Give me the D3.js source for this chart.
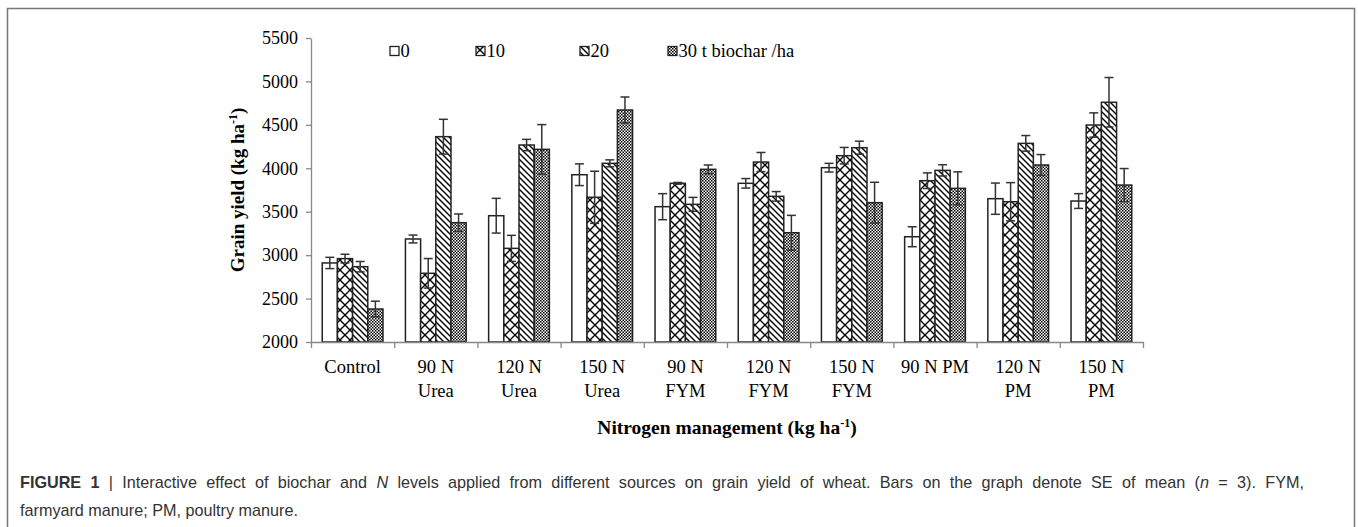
<!DOCTYPE html>
<html><head><meta charset="utf-8">
<script src="https://cdn.jsdelivr.net/npm/d3@7"></script>
<style>body{margin:0;background:#fff;} svg{display:block;}</style>
</head><body><svg id="c" width="1358" height="527"></svg>
<script>
const categories = [["Control"],["90 N","Urea"],["120 N","Urea"],["150 N","Urea"],["90 N","FYM"],["120 N","FYM"],["150 N","FYM"],["90 N PM"],["120 N","PM"],["150 N","PM"]];
const seriesNames = ["0","10","20","30 t biochar /ha"];
const s0  = [2910, 3186, 3454, 3926, 3558, 3827, 4007, 3212, 3650, 3623];
const s10 = [2960, 2791, 3078, 3666, 3827, 4072, 4145, 3857, 3615, 4498];
const s20 = [2867, 4364, 4268, 4057, 3585, 3677, 4237, 3976, 4287, 4760];
const s30 = [2380, 3374, 4218, 4671, 3988, 3258, 3604, 3769, 4038, 3807];
const e0  = [65, 45, 200, 125, 150, 55, 50, 115, 180, 85];
const e10 = [50, 170, 150, 300, 10, 110, 95, 90, 220, 140];
const e20 = [60, 200, 65, 40, 80, 55, 75, 65, 90, 285];
const e30 = [90, 100, 285, 150, 50, 200, 235, 190, 120, 190];
const yTicks = [2000, 2500, 3000, 3500, 4000, 4500, 5000, 5500];
const yTitle = "Grain yield (kg ha";
const xTitle = "Nitrogen management (kg ha";
const captionLine1 = "Interactive effect of biochar and ";
const captionLine2 = "farmyard manure; PM, poultry manure.";

const values = [s0, s10, s20, s30];
const errs = [e0, e10, e20, e30];

const svg = d3.select("#c");
const serif = "'Liberation Serif','Times New Roman',serif";
const sans = "'Liberation Sans',Arial,sans-serif";

// patterns
const defs = svg.append("defs");
const p10 = defs.append("pattern").attr("id","p10").attr("patternUnits","userSpaceOnUse").attr("width",10).attr("height",10);
p10.append("rect").attr("width",10).attr("height",10).attr("fill","#fff");
p10.append("path").attr("d","M0,0L10,10M10,0L0,10").attr("stroke","#000").attr("stroke-width",1.4);
const p20 = defs.append("pattern").attr("id","p20").attr("patternUnits","userSpaceOnUse").attr("width",6).attr("height",6);
p20.append("rect").attr("width",6).attr("height",6).attr("fill","#fff");
p20.append("path").attr("d","M0,0L6,6M-3,3L3,9M3,-3L9,3").attr("stroke","#000").attr("stroke-width",1.4);
const p30 = defs.append("pattern").attr("id","p30").attr("patternUnits","userSpaceOnUse").attr("width",3).attr("height",3);
p30.append("rect").attr("width",3).attr("height",3).attr("fill","#fff");
p30.append("rect").attr("x",0).attr("y",0).attr("width",1.5).attr("height",1.5).attr("fill","#000");
p30.append("rect").attr("x",1.5).attr("y",1.5).attr("width",1.5).attr("height",1.5).attr("fill","#000");
const fills = ["#fff","url(#p10)","url(#p20)","url(#p30)"];

// frame
svg.append("path").attr("d","M7.5,560V8.5H1354.5V560").attr("fill","none").attr("stroke","#777").attr("stroke-width",1.5);

const pLeft = 311, pRight = 1143, pTop = 38, pBottom = 342;
const y = d3.scaleLinear().domain([2000,5500]).range([pBottom, pTop]);
const x0 = d3.scaleBand().domain(d3.range(categories.length)).range([pLeft,pRight]).paddingInner(0.27).paddingOuter(0.135);
const x1 = d3.scaleBand().domain(d3.range(seriesNames.length)).range([0, x0.bandwidth()]);
const xl = d3.scaleLinear().domain([0, categories.length]).range([pLeft, pRight]);

// y axis
const ya = svg.append("g").attr("transform",`translate(${pLeft},0)`).call(d3.axisLeft(y).tickValues(yTicks).tickSize(5).tickSizeOuter(0).tickPadding(8).tickFormat(d3.format("d")));
ya.select(".domain").attr("stroke","#888").attr("stroke-width",1.3);
ya.selectAll(".tick line").attr("stroke","#888").attr("stroke-width",1.3);
ya.selectAll("text").attr("font-family",serif).attr("font-size",18).attr("fill","#000");

// bars
const g = svg.append("g");
categories.forEach((c, i) => {
  values.forEach((vals, s) => {
    const bx = x0(i) + x1(s), bw = x1.bandwidth();
    g.append("rect").attr("x",bx).attr("y",y(vals[i])).attr("width",bw).attr("height",y(2000)-y(vals[i]))
      .attr("fill",fills[s]).attr("stroke","#222").attr("stroke-width",1.5);
  });
});
// error bars
const eg = svg.append("g").attr("stroke","#333").attr("stroke-width",1.5);
categories.forEach((c, i) => {
  values.forEach((vals, s) => {
    const cx = x0(i) + x1(s) + x1.bandwidth()/2;
    const hi = y(vals[i] + errs[s][i]), lo = y(vals[i] - errs[s][i]);
    eg.append("line").attr("x1",cx).attr("x2",cx).attr("y1",hi).attr("y2",lo);
    eg.append("line").attr("x1",cx-4.5).attr("x2",cx+4.5).attr("y1",hi).attr("y2",hi);
    eg.append("line").attr("x1",cx-4.5).attr("x2",cx+4.5).attr("y1",lo).attr("y2",lo);
  });
});

// x axis
const xa = svg.append("g").attr("transform",`translate(0,${pBottom})`).call(d3.axisBottom(xl).tickValues(d3.range(categories.length+1)).tickSize(6).tickSizeOuter(0).tickFormat(""));
xa.select(".domain").attr("stroke","#888").attr("stroke-width",1.3);
xa.selectAll(".tick line").attr("stroke","#888").attr("stroke-width",1.3);

// category labels
categories.forEach((c, i) => {
  const t = svg.append("text").attr("x", x0(i) + x0.bandwidth()/2).attr("y", 373).attr("text-anchor","middle")
    .attr("font-family",serif).attr("font-size",18.5).attr("fill","#000");
  c.forEach((line, k) => t.append("tspan").attr("x", x0(i) + x0.bandwidth()/2).attr("dy", k ? 24 : 0).text(line));
});

// axis titles
const yt = svg.append("text").attr("transform","translate(244,190) rotate(-90)").attr("text-anchor","middle")
  .attr("font-family",serif).attr("font-size",19).attr("font-weight","bold").attr("fill","#000");
yt.append("tspan").text(yTitle);
yt.append("tspan").attr("dy",-7).attr("font-size",12).text("-1");
yt.append("tspan").attr("dy",7).text(")");
const xt = svg.append("text").attr("x",727).attr("y",434).attr("text-anchor","middle")
  .attr("font-family",serif).attr("font-size",19.5).attr("font-weight","bold").attr("fill","#000");
xt.append("tspan").text(xTitle);
xt.append("tspan").attr("dy",-7).attr("font-size",12).text("-1");
xt.append("tspan").attr("dy",7).text(")");

// legend
const legX = [390, 476, 580, 668];
seriesNames.forEach((n, s) => {
  svg.append("rect").attr("x",legX[s]).attr("y",46.5).attr("width",9).attr("height",9).attr("fill",fills[s]).attr("stroke","#222").attr("stroke-width",1.3);
  svg.append("text").attr("x",legX[s]+10.5).attr("y",56.5).attr("font-family",serif).attr("font-size",18.5).attr("fill","#000").text(n);
});

// caption (line 1 justified)
const capSize = 16.2;
const c1 = svg.append("text").attr("x",20).attr("y",488).attr("font-family",sans).attr("font-size",capSize).attr("fill","#333");
c1.append("tspan").attr("font-weight","bold").text("FIGURE 1");
c1.append("tspan").text(" | " + captionLine1);
c1.append("tspan").attr("font-style","italic").text("N");
c1.append("tspan").text(" levels applied from different sources on grain yield of wheat. Bars on the graph denote SE of mean (");
c1.append("tspan").attr("font-style","italic").text("n");
c1.append("tspan").text(" = 3). FYM,");
const natural = c1.node().getComputedTextLength();
const spaces = (c1.text().match(/ /g) || []).length;
const targetW = 1304 - 20;
if (natural < targetW) c1.attr("word-spacing", ((targetW - natural) / spaces).toFixed(2));
svg.append("text").attr("x",20).attr("y",516).attr("font-family",sans).attr("font-size",capSize).attr("fill","#333").text(captionLine2);
</script></body></html>
